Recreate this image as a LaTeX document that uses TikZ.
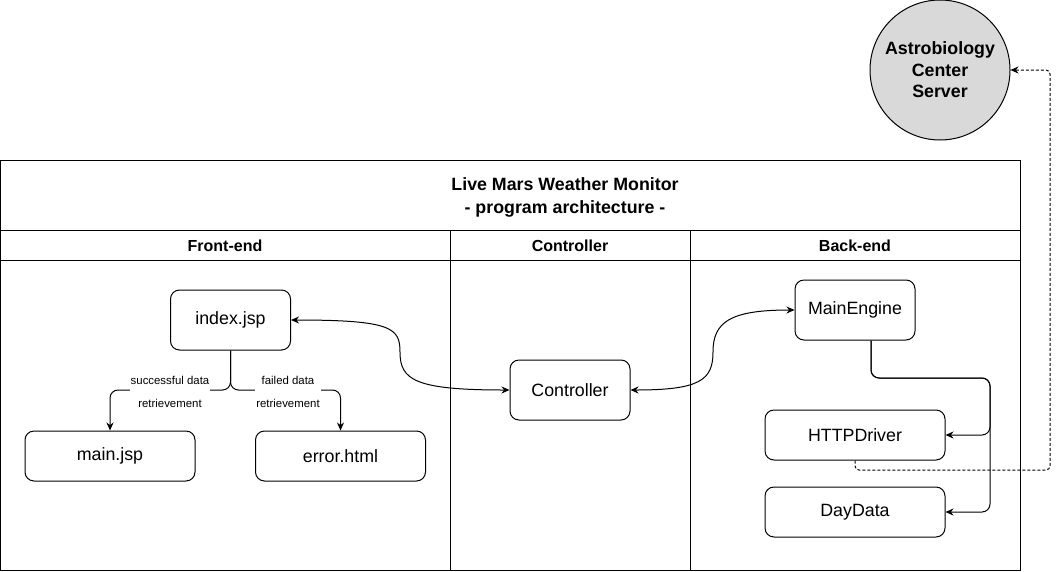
\documentclass[tikz,border=0pt]{standalone}
\usepackage{fontspec}
\setmainfont{Liberation Sans}
\usetikzlibrary{arrows.meta}
\begin{document}
\begin{tikzpicture}[x=1pt,y=-1pt,line width=1pt,
  box/.style={draw,rounded corners=9pt,font=\fontsize{17.8}{20}\selectfont,inner sep=0pt},
  lane/.style={draw},
  hdr/.style={font=\bfseries\fontsize{16}{19}\selectfont},
  lbl/.style={fill=white,inner sep=1pt,align=center,font=\fontsize{11.4}{23}\selectfont},
  arr/.style={-{Stealth[length=8pt,width=7pt]}},
  barr/.style={{Stealth[length=8pt,width=7pt]}-{Stealth[length=8pt,width=7pt]}}]
\useasboundingbox (0,0) rectangle (1060,571);
% container
\draw[lane] (0.5,160) rectangle (1020,570.5);
\draw[lane] (0.5,230) -- (1020,230);
\draw[lane] (0.5,260) -- (1020,260);
\draw[lane] (450,230) -- (450,570.5);
\draw[lane] (690,230) -- (690,570.5);
\node[align=center,font=\bfseries\fontsize{17.8}{23}\selectfont] (title) at (565,197) {Live Mars Weather Monitor\\- program architecture -};
\node[hdr] (h1) at (225,246) {Front-end};
\node[hdr] (h2) at (570,246) {Controller};
\node[hdr] (h3) at (855,246) {Back-end};
% server
\node[draw,circle,fill=gray!30,minimum size=140pt,inner sep=0pt,align=center,font=\bfseries\fontsize{17.8}{21.5}\selectfont] (server) at (940,70) {Astrobiology\\Center\\Server};
% nodes
\node[box,minimum width=120pt,minimum height=60pt] (index) at (230.5,320) {index.jsp};
\node[box,minimum width=170pt,minimum height=50pt] (main) at (110,456) {main.jsp};
\node[box,minimum width=170pt,minimum height=50pt] (error) at (340.5,456) {error.html};
\node[box,minimum width=120pt,minimum height=60pt] (ctrl) at (570,390) {Controller};
\node[box,minimum width=120pt,minimum height=60pt] (me) at (855,310) {MainEngine};
\node[box,minimum width=180pt,minimum height=50pt] (http) at (855,435) {HTTPDriver};
\node[box,minimum width=180pt,minimum height=50pt] (day) at (855,512) {DayData};
% branch edges
\coordinate (b) at (230.5,390);
\draw[arr,rounded corners=8pt] (index.south) -- (b) -| (main.north);
\draw[arr,rounded corners=8pt] (index.south) -- (b) -| (error.north);
\node[lbl] (l1) at (170,392) {successful data\\retrievement};
\node[lbl] (l2) at (288,392) {failed data\\retrievement};
% curved edges
\draw[barr] (index.east) .. controls (392,320) and (400,328) .. (400,352) .. controls (400,380) and (415,390) .. (ctrl.west);
\draw[barr] (ctrl.east) .. controls (700,390) and (713,380) .. (713,352) .. controls (713,322) and (730,310) .. (me.west);
% backend edges
\coordinate (j) at (990,378);
\draw[arr,rounded corners=8pt] ([xshift=16pt]me.south) |- (j) |- (http.east);
\draw[arr,rounded corners=8pt] ([xshift=16pt]me.south) |- (j) |- (day.east);
% dashed
\coordinate (d) at (1050,470);
\draw[arr,dash pattern=on 3pt off 2pt,rounded corners=4pt] (http.south) |- (d) |- (server.east);
\end{tikzpicture}
\end{document}
